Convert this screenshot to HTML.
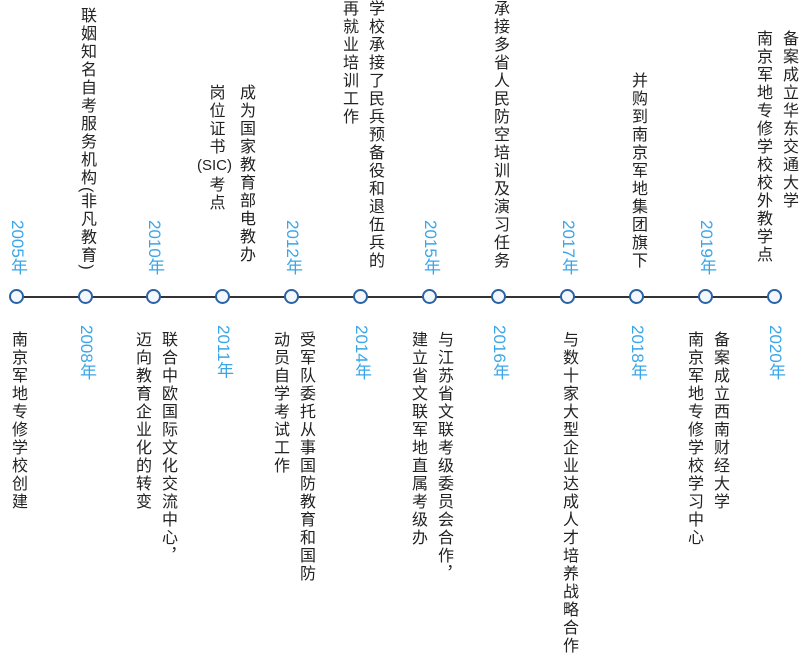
<!DOCTYPE html>
<html><head><meta charset="utf-8">
<style>
body{margin:0;width:800px;height:655px;background:#fff;position:relative;overflow:hidden;font-family:"Liberation Sans","Noto Sans CJK SC",sans-serif;}
.t{position:absolute;writing-mode:vertical-rl;font-size:16px;letter-spacing:2px;line-height:26px;color:#222;white-space:nowrap;}
.top{bottom:385px;}
.bot{top:331px;}
.y{position:absolute;writing-mode:vertical-rl;font-size:17px;line-height:20px;color:#3aa6e8;white-space:nowrap;}
.yt{bottom:380px;}
.yb{top:325px;}
.h{writing-mode:horizontal-tb;display:inline-block;letter-spacing:0;font-size:15px;line-height:18px;margin:1px 0;}
.p{letter-spacing:0;}
.line{position:absolute;left:17px;width:758px;top:296px;height:2px;background:#333;}
.c{position:absolute;top:289px;width:11px;height:11px;border:2.5px solid #2a62a6;border-radius:50%;background:#f4f8fc;}
</style></head><body>
<div class="line"></div>
<div class="c" style="left:9px"></div>
<div class="c" style="left:78px"></div>
<div class="c" style="left:146px"></div>
<div class="c" style="left:215px"></div>
<div class="c" style="left:284px"></div>
<div class="c" style="left:353px"></div>
<div class="c" style="left:422px"></div>
<div class="c" style="left:491px"></div>
<div class="c" style="left:560px"></div>
<div class="c" style="left:629px"></div>
<div class="c" style="left:698px"></div>
<div class="c" style="left:767px"></div>

<div class="y yt" style="left:7px">2005年</div>
<div class="t bot" style="left:4px">南京军地专修学校创建</div>

<div class="t top" style="left:73px">联姻知名自考服务机构<span class="p">(</span>非凡教育<span class="p">)</span></div>
<div class="y yb" style="left:76px">2008年</div>

<div class="y yt" style="left:144px">2010年</div>
<div class="t bot" style="left:128px">联合中欧国际文化交流中心，<br>迈向教育企业化的转变</div>

<div class="t" style="left:197px;top:84px">成为国家教育部电教办<br>岗位证书<span class="h">(SIC)</span>考点</div>
<div class="y yb" style="left:213px">2011年</div>

<div class="y yt" style="left:282px">2012年</div>
<div class="t bot" style="left:266px">受军队委托从事国防教育和国防<br>动员自学考试工作</div>

<div class="t top" style="left:335px">学校承接了民兵预备役和退伍兵的<br>再就业培训工作</div>
<div class="y yb" style="left:351px">2014年</div>

<div class="y yt" style="left:420px">2015年</div>
<div class="t bot" style="left:404px">与江苏省文联考级委员会合作，<br>建立省文联军地直属考级办</div>

<div class="t top" style="left:486px">承接多省人民防空培训及演习任务</div>
<div class="y yb" style="left:489px">2016年</div>

<div class="y yt" style="left:558px">2017年</div>
<div class="t bot" style="left:555px">与数十家大型企业达成人才培养战略合作</div>

<div class="t top" style="left:624px">并购到南京军地集团旗下</div>
<div class="y yb" style="left:627px">2018年</div>

<div class="y yt" style="left:696px">2019年</div>
<div class="t bot" style="left:680px">备案成立西南财经大学<br>南京军地专修学校学习中心</div>

<div class="t" style="left:749px;top:30px">备案成立华东交通大学<br>南京军地专修学校校外教学点</div>
<div class="y yb" style="left:765px">2020年</div>
</body></html>
